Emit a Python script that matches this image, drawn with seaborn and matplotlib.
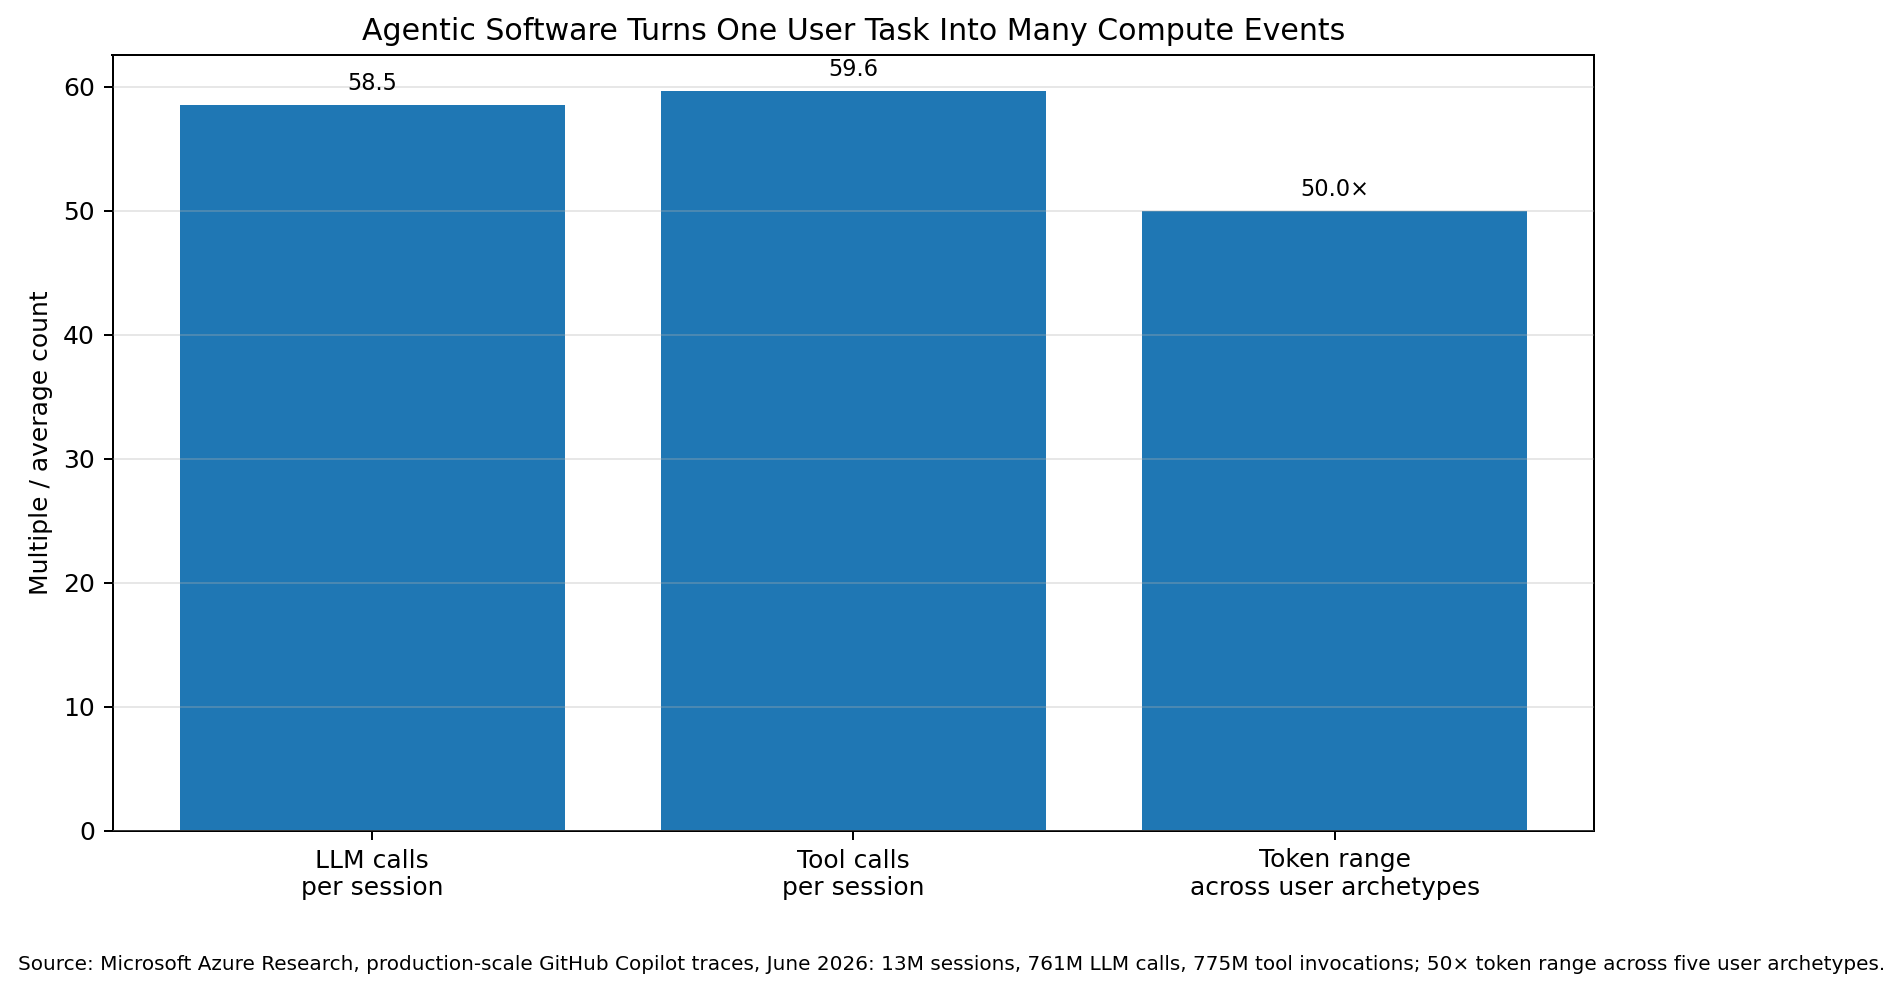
import matplotlib
matplotlib.use("Agg")
import matplotlib.pyplot as plt
import seaborn as sns
import pandas as pd

categories = ["LLM calls\nper session", "Tool calls\nper session", "Token range\nacross user archetypes"]
values = [58.5, 59.6, 50.0]
suffixes = ["", "", "×"]
title = "Agentic Software Turns One User Task Into Many Compute Events"
ylabel = "Multiple / average count"
source = ("Source: Microsoft Azure Research, production-scale GitHub Copilot traces, June 2026: "
          "13M sessions, 761M LLM calls, 775M tool invocations; 50× token range across five user archetypes.")

plt.rcParams['font.family'] = ['DejaVu Sans']

W, H, DPI = 1903, 990, 180
fig = plt.figure(figsize=(W / DPI, H / DPI), dpi=DPI)
top_px, bottom_px = 54.5, 831.0
ax = fig.add_axes([112.5 / W, (H - bottom_px) / H, 1482 / W, (bottom_px - top_px) / H])

df = pd.DataFrame({"category": categories, "value": values})
sns.barplot(data=df, x="category", y="value", color="#1f77b4", saturation=1,
            width=0.8, ax=ax, errorbar=None)

ax.set_xlim(-0.54, 2.54)
ax.set_ylim(0, max(values) * 1.05)
ax.yaxis.grid(True, alpha=0.3)
ax.xaxis.grid(False)
ax.set_axisbelow(False)
for p in ax.patches:
    p.set_zorder(1)
for gl in ax.get_ygridlines():
    gl.set_zorder(1.5)

labels = [f"{v:.1f}{s}" for v, s in zip(values, suffixes)]
ax.bar_label(ax.containers[0], labels=labels, padding=4, fontsize=9)

ax.set_title(title, fontsize=12)
ax.set_xlabel("")
ax.set_ylabel(ylabel, fontsize=10)
ax.tick_params(labelsize=10)

fig.text(18 / W, 1 - 965 / H, source, fontsize=8, va="center", ha="left")

fig.savefig("out.png", dpi=DPI)
